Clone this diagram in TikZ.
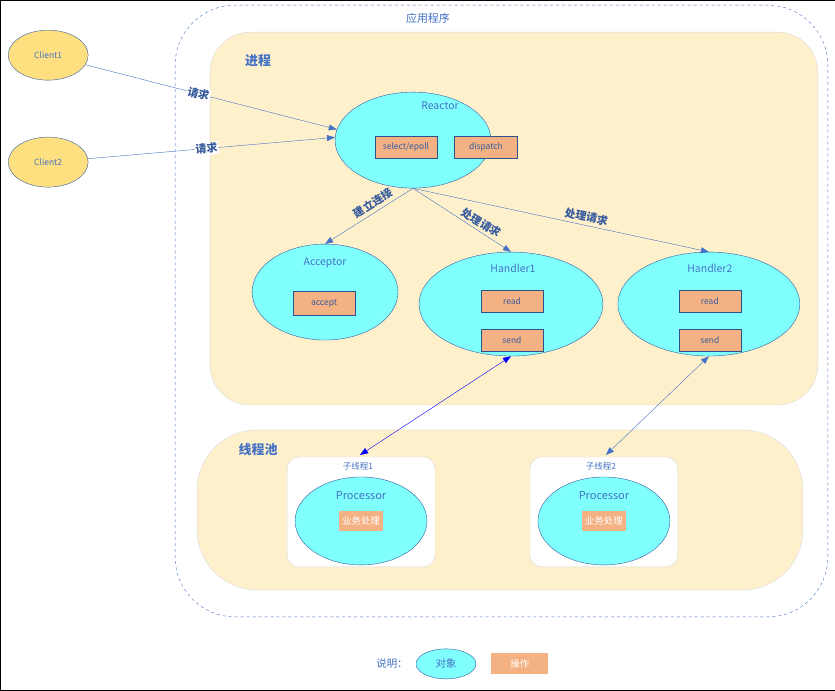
\documentclass[tikz,border=0pt]{standalone}
\usepackage{fontspec}
\setmainfont{Noto Sans CJK SC}
\usetikzlibrary{shapes.geometric,arrows.meta}
\definecolor{lineblue}{HTML}{4472C4}
\definecolor{objcyan}{HTML}{80FFFF}
\definecolor{opsalmon}{HTML}{F4B183}
\definecolor{areafill}{HTML}{FFF0CC}
\definecolor{clientfill}{HTML}{FFE080}
\tikzset{
  obj/.style={ellipse, draw=lineblue!80!black, fill=objcyan, inner sep=0pt},
  op/.style={draw=lineblue!70!black, fill=opsalmon, minimum width=62bp, minimum height=22bp, inner sep=0pt, font=\fontsize{8.5}{9}\selectfont, text=lineblue!80!black},
  opw/.style={fill=opsalmon, minimum height=20bp, inner sep=3pt, font=\fontsize{9.5}{10}\selectfont, text=white},
  txt/.style={text=lineblue, font=\fontsize{10.5}{11}\selectfont},
  area/.style={draw=black!15, fill=areafill, rounded corners=40bp},
  conn/.style={draw=lineblue, -{Triangle[length=8pt,width=6pt]}},
  lbl/.style={fill=white, inner sep=1pt, sloped, text=lineblue!80!black, font=\bfseries\fontsize{11}{12}\selectfont},
  lbla/.style={inner sep=1pt, sloped, above=2bp, text=lineblue!80!black, font=\bfseries\fontsize{11}{12}\selectfont},
}
\begin{document}
\begin{tikzpicture}[x=1bp,y=-1bp]
  \draw[black] (0,0) rectangle (835,690);
  % application frame
  \draw[lineblue, dashed, rounded corners=60bp] (175,5) rectangle (828,617);
  \node[txt, font=\fontsize{11}{12}\selectfont] (app) at (428,18) {应用程序};
  % process
  \draw[area] (210,32) rectangle (818,405);
  \node[text=lineblue, font=\bfseries\fontsize{13}{14}\selectfont] (proc) at (258,60) {进程};
  % thread pool
  \draw[area, rounded corners=60bp] (197,430) rectangle (803,590);
  \node[text=lineblue, font=\bfseries\fontsize{13}{14}\selectfont] (pool) at (258,450) {线程池};

  % clients
  \node[obj, fill=clientfill, minimum width=80bp, minimum height=50bp] (client1) at (48,55) {};
  \node[txt, font=\fontsize{8.5}{9}\selectfont] at (client1) {Client1};
  \node[obj, fill=clientfill, minimum width=80bp, minimum height=50bp] (client2) at (48,162) {};
  \node[txt, font=\fontsize{8.5}{9}\selectfont] at (client2) {Client2};

  % reactor
  \node[obj, minimum width=156bp, minimum height=96bp] (reactor) at (413,140) {};
  \node[txt] (reactort) at (440,106) {Reactor};
  \node[op] (select) at (406,147) {select/epoll};
  \node[op, minimum width=63bp] (dispatch) at (486,147) {dispatch};

  % acceptor
  \node[obj, minimum width=146bp, minimum height=96bp] (acceptor) at (325,292) {};
  \node[txt] (acceptort) at (325,263) {Acceptor};
  \node[op, minimum height=24bp] (accept) at (324,303) {accept};

  % handlers
  \node[obj, minimum width=184bp, minimum height=104bp] (handler1) at (511,304) {};
  \node[txt] (handler1t) at (513,268) {Handler1};
  \node[op] (read1) at (512,301) {read};
  \node[op] (send1) at (512,340) {send};
  \node[obj, minimum width=182bp, minimum height=104bp] (handler2) at (709,304) {};
  \node[txt] (handler2t) at (710,268) {Handler2};
  \node[op] (read2) at (710,301) {read};
  \node[op] (send2) at (710,340) {send};

  % worker threads
  \foreach \i/\x in {1/361, 2/604} {
    \draw[draw=black!15, fill=white, rounded corners=12bp] (\x-74,457) rectangle (\x+74,567);
    \node[txt, font=\fontsize{8.5}{9}\selectfont] (sub\i) at (\x-3,466) {子线程\i};
    \node[obj, minimum width=132bp, minimum height=88bp] (processor\i) at (\x,521) {};
    \node[txt, font=\fontsize{11}{12}\selectfont] (processor\i t) at (\x,496) {Processor};
    \node[opw] (work\i) at (\x,521) {业务处理};
  }
  \coordinate (top1) at (360,455);
  \coordinate (top2) at (606,455);

  % legend
  \node[txt, font=\fontsize{10.5}{11}\selectfont] (legend) at (392,664) {说明：};
  \node[obj, minimum width=60bp, minimum height=30bp] (legobj) at (446,664) {};
  \node[txt] at (legobj) {对象};
  \node[opw, minimum width=57bp, minimum height=21bp] (legop) at (520,664) {操作};

  % connectors
  \draw[conn] (client1) -- node[lbl, pos=0.45] {请求} (reactor.172);
  \draw[conn] (client2) -- node[lbl, pos=0.48] {请求} (reactor.178);
  \draw[conn] (reactor.south) -- node[lbla, pos=0.4] {建立连接} (acceptor.north);
  \draw[conn] (reactor.south) -- node[lbla, pos=0.65] {处理请求} (handler1.north);
  \draw[conn] (reactor.south) -- node[lbla, pos=0.58] {处理请求} (handler2.north);
  \draw[blue, {Triangle[length=8pt,width=6pt]}-{Triangle[length=8pt,width=6pt]}] (handler1.south) -- (top1);
  \draw[lineblue, {Triangle[length=8pt,width=6pt]}-{Triangle[length=8pt,width=6pt]}] (handler2.south) -- (top2);
\end{tikzpicture}
\end{document}
